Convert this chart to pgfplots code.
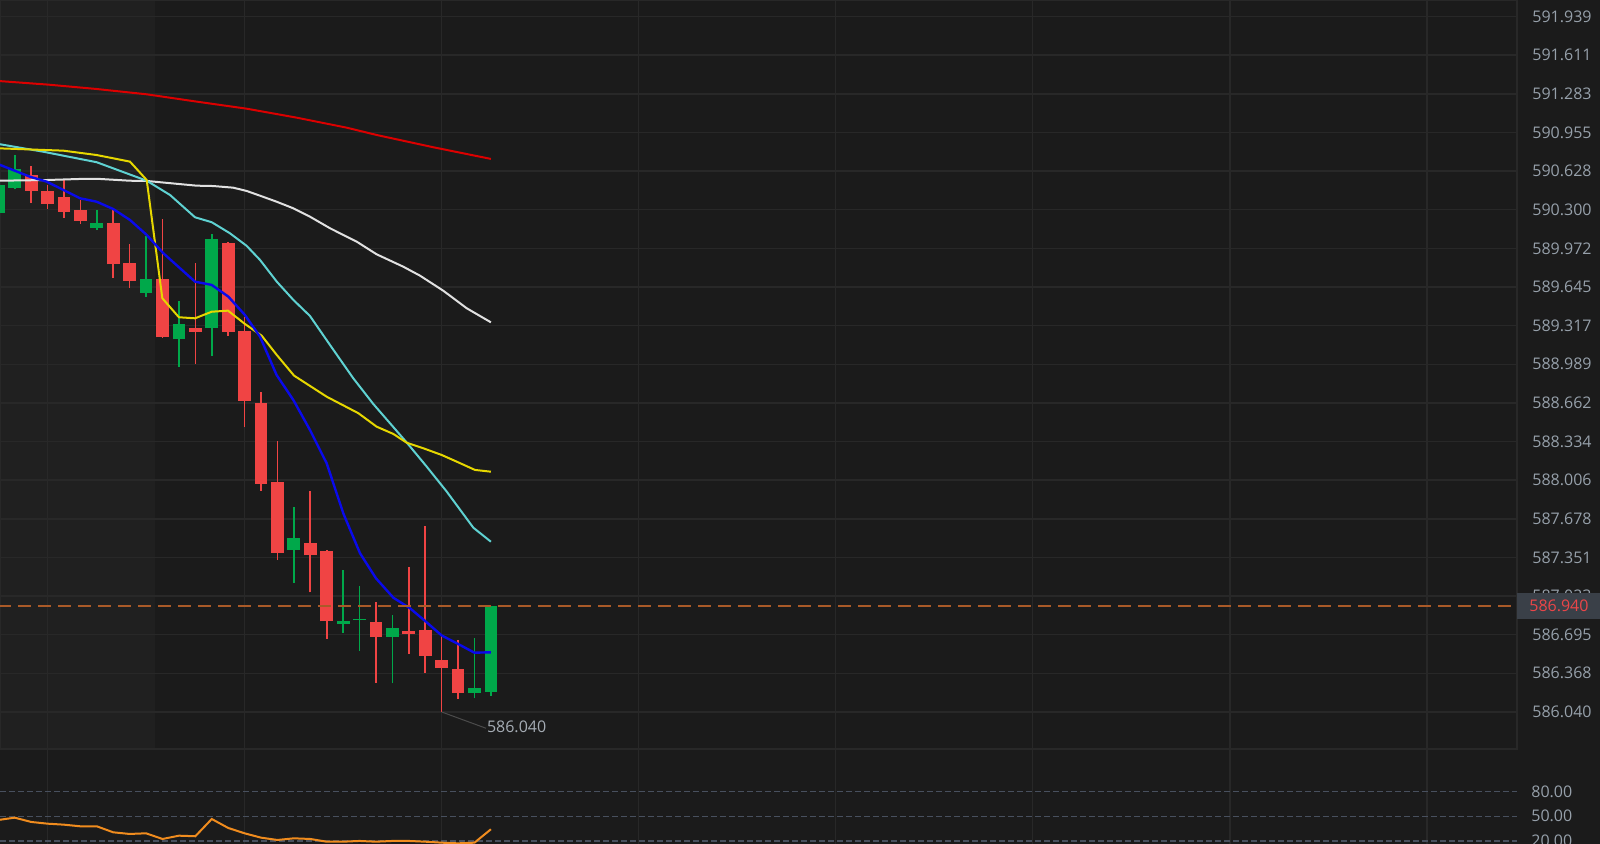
\documentclass[border=0pt]{standalone}
\usepackage{pgfplots}
\pgfplotsset{compat=1.18}
\usepackage{pgfplotstable}
\usepackage{fontspec}
\setmainfont{Open Sans}
\definecolor{bg}{RGB}{27,27,27}
\definecolor{shade}{RGB}{32,32,32}
\definecolor{gridc}{RGB}{40,40,40}
\definecolor{labc}{RGB}{150,160,170}
\definecolor{annc}{RGB}{165,172,180}
\definecolor{cgreen}{RGB}{0,168,74}
\definecolor{cred}{RGB}{240,68,68}
\definecolor{maBlue}{RGB}{10,10,235}
\definecolor{maYellow}{RGB}{230,215,0}
\definecolor{maCyan}{RGB}{95,210,210}
\definecolor{maWhite}{RGB}{225,225,225}
\definecolor{maRed}{RGB}{220,0,0}
\definecolor{indc}{RGB}{240,140,30}
\definecolor{pricel}{RGB}{170,90,40}
\definecolor{boxc}{RGB}{58,64,72}
\definecolor{pricered}{RGB}{235,70,72}
\definecolor{dashc}{RGB}{72,80,94}
\definecolor{annl}{RGB}{75,75,75}
\newcommand{\labfont}{\fontsize{8pt}{9.6pt}\selectfont}

\pgfplotstableread{
k o h l c
0 590.270 590.550 590.240 590.510
1 590.487 590.764 590.473 590.643
6 590.148 590.298 590.128 590.185
9 589.597 590.077 589.563 589.713
11 589.201 589.526 588.969 589.331
13 589.300 590.094 589.062 590.049
18 587.414 587.781 587.137 587.513
21 586.789 587.244 586.713 586.814
22 586.822 587.109 586.560 586.830
24 586.679 586.863 586.283 586.750
29 586.204 586.665 586.156 586.241
30 586.212 586.940 586.176 586.940
}\upc

\pgfplotstableread{
k o h l c
2 590.592 590.674 590.360 590.459
3 590.462 590.510 590.304 590.349
4 590.406 590.552 590.233 590.284
5 590.298 590.383 590.179 590.207
7 590.185 590.298 589.724 589.837
8 589.846 590.010 589.634 589.698
10 589.713 590.219 589.210 589.218
12 589.300 589.846 588.992 589.263
14 590.021 590.029 589.232 589.263
15 589.272 589.393 588.455 588.680
16 588.663 588.754 587.917 587.974
17 587.993 588.339 587.329 587.391
19 587.476 587.915 587.055 587.369
20 587.406 587.414 586.663 586.809
23 586.806 586.976 586.289 586.679
25 586.727 587.267 586.532 586.699
26 586.736 587.618 586.373 586.518
27 586.481 586.693 586.040 586.416
28 586.405 586.651 586.150 586.199
}\downc

\pgfplotstableread{
k v
0 45.5
1 48.3
2 43.1
3 41.0
4 39.8
5 37.8
6 37.8
7 30.5
8 28.5
9 29.3
10 22.4
11 26.4
12 25.7
13 46.7
14 35.8
15 29.3
16 24.0
17 21.2
18 23.2
19 22.4
20 19.1
21 19.1
22 20.0
23 19.1
24 20.0
25 20.0
26 19.1
27 17.9
28 17.1
29 17.9
30 34.2
}\ind

\begin{document}
\begin{tikzpicture}
\useasboundingbox (0,0) rectangle (800pt,422pt);
\fill[bg] (0,0) rectangle (800pt,422pt);

% session shading (behind grid)
\begin{axis}[
  at={(0,47.5pt)}, anchor=south west,
  scale only axis, width=758.5pt, height=374.5pt,
  xmin=0.104, xmax=92.49, ymin=585.726, ymax=592.079,
  hide axis,
]
\addplot[fill=shade, draw=none, mark=none] coordinates {(0,585.726) (0,592.079) (9.54,592.079) (9.54,585.726)};
\end{axis}

\begin{axis}[
  at={(0,47.5pt)}, anchor=south west,
  scale only axis, width=758.5pt, height=374.5pt,
  xmin=0.104, xmax=92.49, ymin=585.726, ymax=592.079,
  xtick={3,15,27,39,51,63,75,87}, xticklabels={},
  ytick={586.040,586.368,586.695,587.023,587.351,587.678,588.006,588.334,588.662,588.989,589.317,589.645,589.972,590.300,590.628,590.955,591.283,591.611,591.939},
  yticklabels={586.040,586.368,586.695,587.023,587.351,587.678,588.006,588.334,588.662,588.989,589.317,589.645,589.972,590.300,590.628,590.955,591.283,591.611,591.939},
  yticklabel pos=right,
  major tick length=0pt,
  grid=major,
  grid style={draw=gridc, line width=0.7pt},
  axis line style={draw=gridc, line width=0.7pt},
  yticklabel style={anchor=west, text=labc, font=\labfont, inner xsep=7.5pt, inner ysep=0pt},
  extra y ticks={586.94},
  extra y tick labels={586.940},
  extra y tick style={grid=none, yticklabel style={fill=boxc, text=pricered, inner xsep=0pt, minimum width=41.5pt, minimum height=13.2pt, anchor=west}},
]
% wicks
\addplot[draw=none, mark=none, forget plot, error bars/.cd, y dir=plus, y explicit, error mark=none, error bar style={draw=cgreen, line width=0.8pt}]
  table[x=k, y=l, y error expr=\thisrow{h}-\thisrow{l}] {\upc};
\addplot[draw=none, mark=none, forget plot, error bars/.cd, y dir=plus, y explicit, error mark=none, error bar style={draw=cred, line width=0.8pt}]
  table[x=k, y=l, y error expr=\thisrow{h}-\thisrow{l}] {\downc};
% bodies
\addplot[draw=none, mark=none, forget plot, error bars/.cd, y dir=plus, y explicit, error mark=none, error bar style={draw=cgreen, line width=6.4pt}]
  table[x=k, y expr={min(\thisrow{o},\thisrow{c})}, y error expr={max(abs(\thisrow{c}-\thisrow{o}),0.009)}] {\upc};
\addplot[draw=none, mark=none, forget plot, error bars/.cd, y dir=plus, y explicit, error mark=none, error bar style={draw=cred, line width=6.4pt}]
  table[x=k, y expr={min(\thisrow{o},\thisrow{c})}, y error expr={max(abs(\thisrow{c}-\thisrow{o}),0.009)}] {\downc};

% moving averages
\addplot[maRed, line width=1pt, mark=none] coordinates {(0,591.392) (3.05,591.361) (5.99,591.324) (9.04,591.279) (12.08,591.217) (15.13,591.157) (18.17,591.081) (21.22,590.996) (23.04,590.934) (26.49,590.830) (30,590.731)};
\addplot[maWhite, line width=1pt, mark=none] coordinates {(0,590.546) (2.95,590.552) (4.98,590.561) (6.19,590.561) (8.02,590.546) (9.04,590.544) (12.08,590.504) (13.09,590.501) (14.31,590.487) (15.13,590.459) (15.94,590.419) (16.95,590.368) (17.97,590.312) (18.98,590.241) (20.2,590.143) (21.83,590.029) (23.04,589.922) (24.66,589.817) (25.68,589.741) (27.1,589.613) (28.53,589.464) (30,589.345)};
\addplot[maCyan, line width=1pt, mark=none] coordinates {(0,590.858) (2.74,590.792) (5.99,590.703) (9.04,590.546) (10.46,590.425) (11.98,590.236) (13.0,590.194) (14.11,590.100) (15.13,589.993) (15.94,589.874) (16.96,589.690) (17.97,589.535) (18.98,589.399) (20.2,589.153) (21.62,588.870) (22.84,588.652) (24.87,588.326) (26.09,588.121) (27.31,587.909) (28.93,587.603) (30,587.484)};
\addplot[maYellow, line width=1pt, mark=none] coordinates {(0,590.821) (3.96,590.801) (5.99,590.764) (8.02,590.708) (9.04,590.552) (9.99,589.549) (11.0,589.388) (11.98,589.379) (13.0,589.435) (13.99,589.444) (15.02,589.331) (16.04,589.232) (16.96,589.068) (18.01,588.893) (20.0,588.714) (21.93,588.574) (23.04,588.460) (24.06,588.398) (24.87,588.324) (25.88,588.277) (27.0,588.220) (27.92,588.163) (29.03,588.093) (30,588.078)};
\addplot[maBlue, line width=1.2pt, mark=none] coordinates {(0,590.686) (1.93,590.580) (2.95,590.538) (3.96,590.468) (4.98,590.397) (5.99,590.368) (7.0,590.306) (8.02,590.213) (9.04,590.086) (10.05,589.931) (10.96,589.817) (11.98,589.690) (13.0,589.662) (14.01,589.563) (15.02,589.407) (15.94,589.223) (16.95,588.898) (17.97,588.686) (18.98,588.432) (20.0,588.149) (21.01,587.725) (22.03,587.386) (23.0,587.174) (24.06,587.009) (25.07,586.920) (25.99,586.812) (27.0,586.689) (28.0,586.617) (28.99,586.543) (30,586.546)};

% current price line
\addplot[pricel, line width=0.7pt, dash pattern=on 6.5pt off 3.5pt, mark=none] coordinates {(0,586.94) (92.49,586.94)};

% low annotation
\addplot[annl, line width=0.5pt, mark=none] coordinates {(27,586.040) (29.70,585.902)};
\node[anchor=west, text=annc, font=\labfont, inner sep=0pt] at (axis cs:29.74,585.915) {586.040};
\end{axis}

\begin{axis}[
  at={(0,0)}, anchor=south west,
  scale only axis, width=758.5pt, height=47pt,
  xmin=0.104, xmax=92.49, ymin=16.3, ymax=130.6,
  xtick={3,15,27,39,51,63,75,87}, xticklabels={},
  ytick={20,50,80}, yticklabels={20.00,50.00,80.00},
  yticklabel pos=right,
  major tick length=0pt,
  xmajorgrids, ymajorgrids,
  x grid style={draw=gridc, line width=0.7pt},
  y grid style={draw=dashc, line width=0.7pt, dash pattern=on 3pt off 1.5pt},
  axis line style={draw=none},
  yticklabel style={anchor=west, text=labc, font=\labfont, inner xsep=7pt, inner ysep=0pt},
]
\addplot[indc, line width=1pt, mark=none] table[x=k, y=v] {\ind};
\end{axis}
\end{tikzpicture}
\end{document}
